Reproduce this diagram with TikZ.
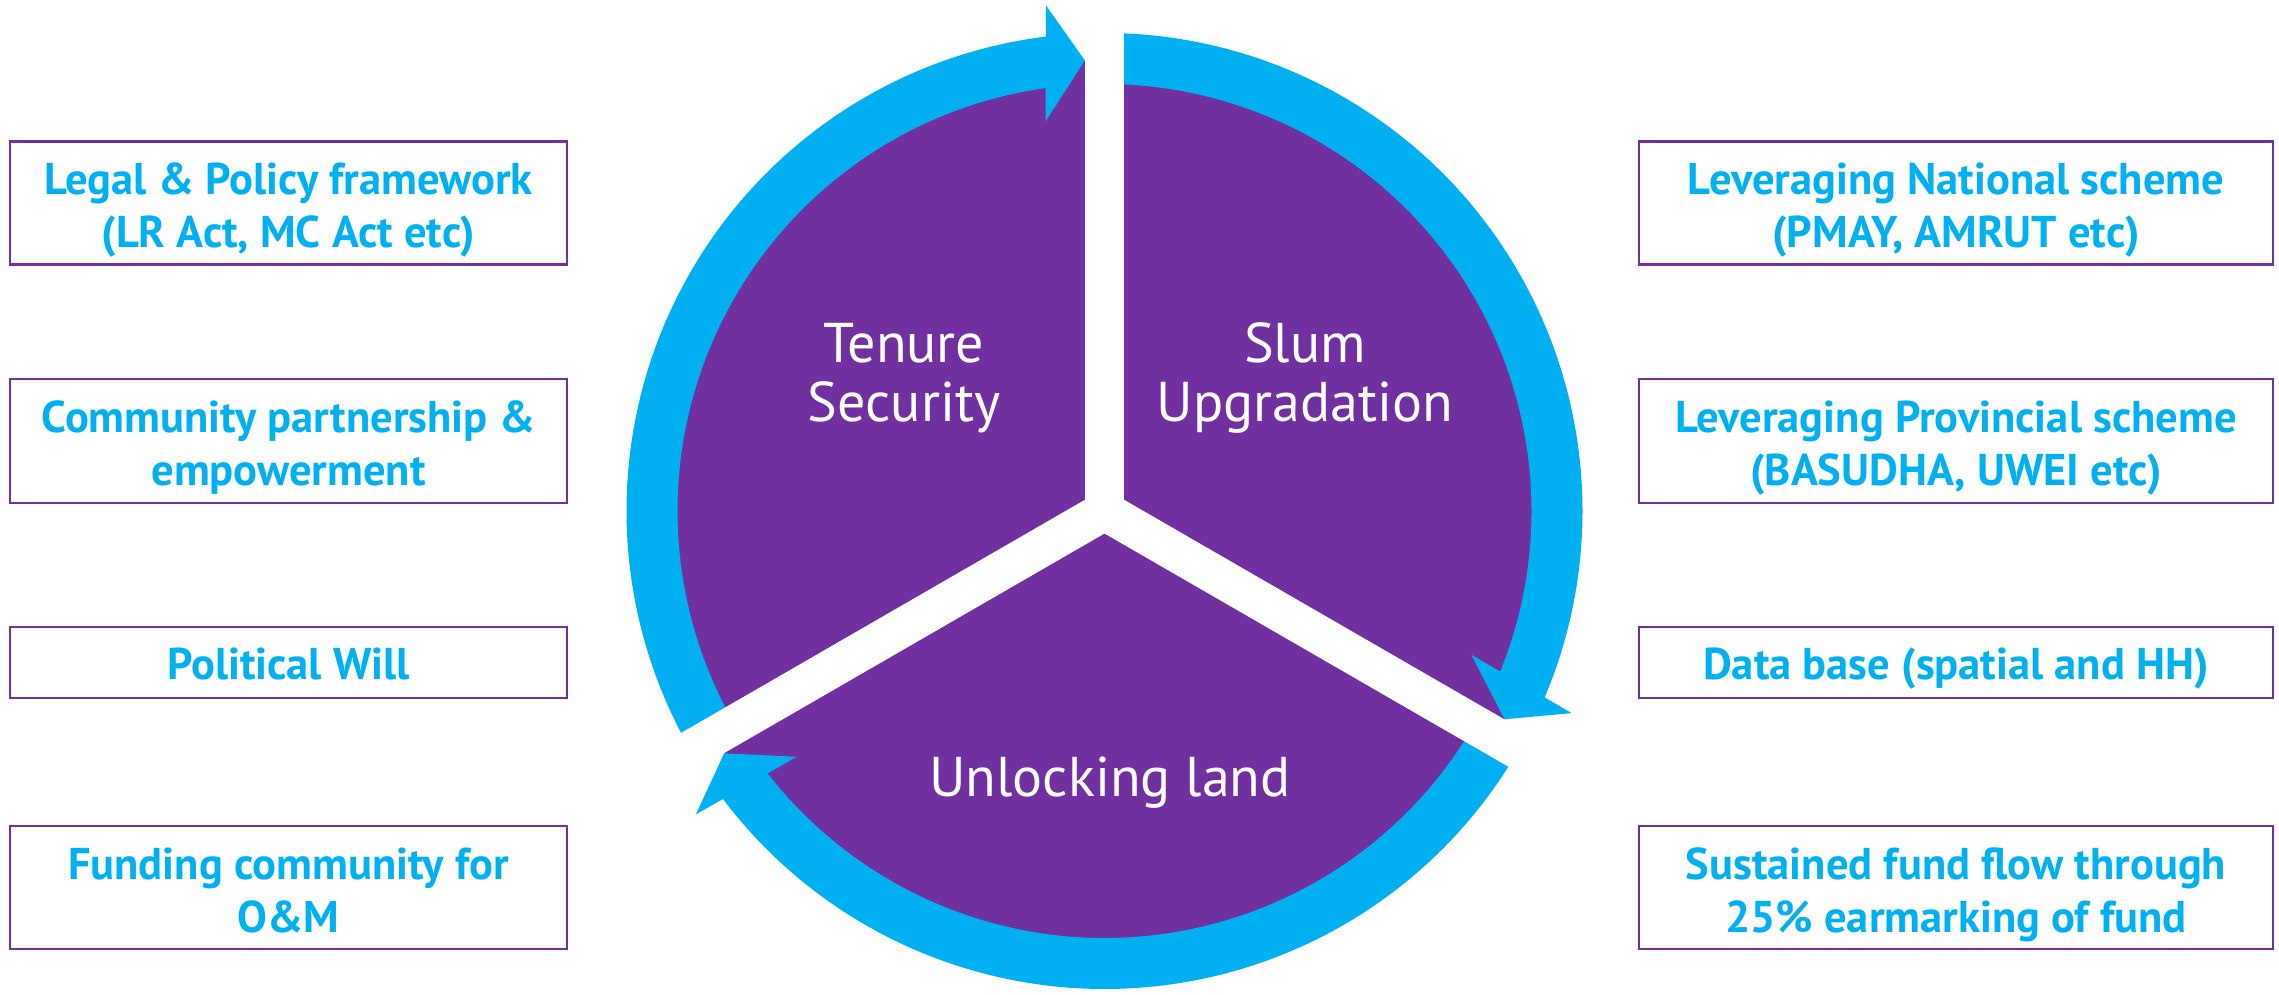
\documentclass[tikz,border=0pt]{standalone}
\usepackage{fontspec}
\setmainfont{PT Sans}
\definecolor{pur}{HTML}{7030A0}
\definecolor{cyn}{HTML}{00B0F0}
\tikzset{
  bx/.style={draw=pur, line width=2.2pt, inner sep=0pt, fill=white},
  lbx/.style={bx, minimum width=557pt},
  rbx/.style={bx, minimum width=634pt},
  bt/.style={anchor=base, text=cyn, inner sep=0pt, font=\fontsize{44.5}{53}\selectfont\bfseries},
  pt/.style={anchor=base, text=white, inner sep=0pt, font=\fontsize{56}{60}\selectfont},
  gapline/.style={white, line width=39pt},
}
\begin{document}
\begin{tikzpicture}[x=1pt,y=1pt]
\useasboundingbox (0,0) rectangle (2279,994);
\coordinate (c) at (1104.5,483);
% purple disc
\fill[pur] (c) circle[radius=451];
% blue ring arcs (rotational copies)
\foreach \r in {0,120,240}{
  \fill[cyn, shift={(c)}, rotate=\r] (210:478) arc[start angle=210, end angle=97, radius=478]
     -- (97:427) arc[start angle=97, end angle=210, radius=427] -- cycle;
}
% white gaps
\foreach \a in {90,210,330}{
  \draw[gapline] (c) -- ++(\a:540);
}
% arrow heads
\foreach \r in {0,120,240}{
  \fill[cyn, shift={(c)}, rotate=\r] (92.5:451) -- (96.6:509) -- (98.6:394) -- cycle;
}
% pie labels
\node[pt] (ts1) at (904,631) {Tenure};
\node[pt] (ts2) at (904,572.3) {Security};
\node[pt] (su1) at (1305,631) {Slum};
\node[pt] (su2) at (1305,572.3) {Upgradation};
\node[pt] (ul) at (1110,197) {Unlocking land};
% left boxes
\node[lbx, minimum height=123pt] (L1) at (288.5,791) {};
\node[lbx, minimum height=124pt] (L2) at (288.5,553) {};
\node[lbx, minimum height=71pt] (L3) at (288.5,331.5) {};
\node[lbx, minimum height=123pt] (L4) at (288.5,106.5) {};
\node[bt] (L1a) at (288.5,799) {Legal \& Policy framework};
\node[bt] (L1b) at (288.5,746) {(LR Act, MC Act etc)};
\node[bt] (L2a) at (288.5,561) {Community partnership \&};
\node[bt] (L2b) at (288.5,508) {empowerment};
\node[bt] (L3a) at (288.5,314) {Political Will};
\node[bt] (L4a) at (288.5,114.5) {Funding community for};
\node[bt] (L4b) at (288.5,61.5) {O\&M};
% right boxes
\node[rbx, minimum height=123pt] (R1) at (1956,791) {};
\node[rbx, minimum height=124pt] (R2) at (1956,553) {};
\node[rbx, minimum height=71pt] (R3) at (1956,331.5) {};
\node[rbx, minimum height=123pt] (R4) at (1956,106.5) {};
\node[bt] (R1a) at (1956,799) {Leveraging National scheme};
\node[bt] (R1b) at (1956,746) {(PMAY, AMRUT etc)};
\node[bt] (R2a) at (1956,561) {Leveraging Provincial scheme};
\node[bt] (R2b) at (1956,508) {(BASUDHA, UWEI etc)};
\node[bt] (R3a) at (1956,314) {Data base (spatial and HH)};
\node[bt] (R4a) at (1956,114.5) {Sustained fund flow through};
\node[bt] (R4b) at (1956,61.5) {25\% earmarking of fund};
\end{tikzpicture}
\end{document}
